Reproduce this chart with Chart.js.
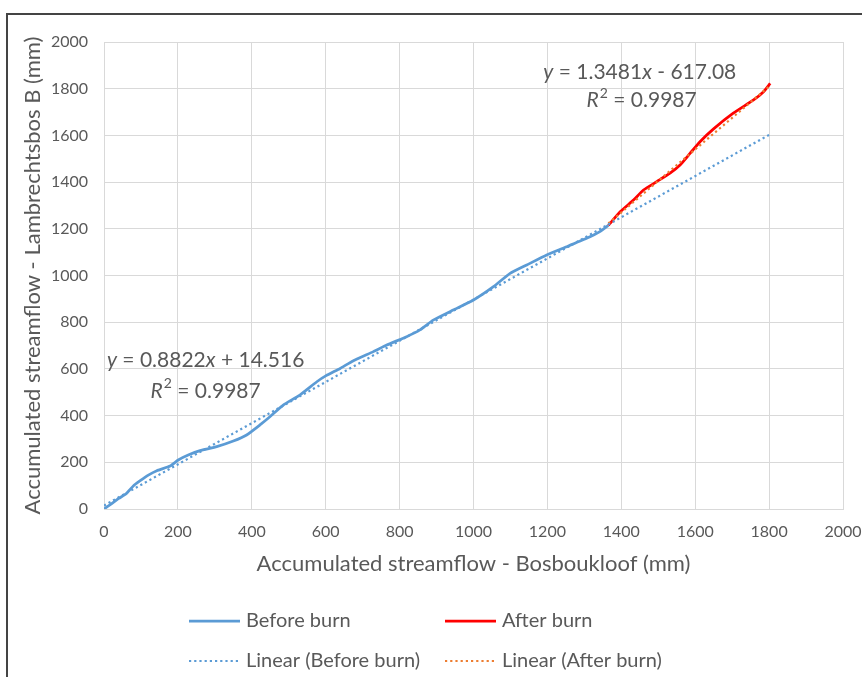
<!DOCTYPE html>
<html>
<head>
<meta charset="utf-8">
<script src="https://cdn.jsdelivr.net/npm/chart.js@4/dist/chart.umd.min.js"></script>
<style>
  body { margin: 0; background: #fff; }
  #frame { position: absolute; left: 6px; top: 13px; width: 900px; height: 700px; border: 2px solid #444; }
  #wrap { position: absolute; left: 0; top: 0; width: 862px; height: 677px; }
</style>
</head>
<body>
<div id="frame"></div>
<div id="wrap"><canvas id="myChart" width="862" height="677"></canvas></div>
<script>
// accumulated streamflow (mm), Bosboukloof on x, Lambrechtsbos B on y
let beforeX = [0, 20, 40, 61, 80, 97, 120, 143, 179, 201, 228, 260, 305, 350, 386, 422, 449, 485, 530, 576, 600, 639, 675, 729, 765, 819, 855, 891, 945, 1000, 1054, 1099, 1144, 1198, 1252, 1306, 1342, 1365];
let beforeY = [0, 22, 45, 67, 100, 120, 145, 164, 184, 210, 231, 250, 267, 291, 317, 360, 395, 445, 488, 545, 570, 602, 635, 674, 702, 738, 767, 809, 852, 895, 952, 1009, 1045, 1088, 1123, 1159, 1188, 1215];
let afterX = [1365, 1397, 1433, 1460, 1496, 1532, 1559, 1586, 1613, 1649, 1703, 1758, 1785, 1803];
let afterY = [1215, 1273, 1323, 1366, 1402, 1438, 1473, 1523, 1573, 1627, 1695, 1752, 1787, 1823];

// trendline end points
let trendBeforeX = [0, 1803];
let trendBeforeY = [15, 1605];
let trendAfterX = [1365, 1803];
let trendAfterY = [1223, 1814];

let eqBefore = ['y', ' = 0.8822', 'x', ' + 14.516'];
let eqAfter = ['y', ' = 1.3481', 'x', ' - 617.08'];
let r2Text = ' = 0.9987';

let tickValues = [0, 200, 400, 600, 800, 1000, 1200, 1400, 1600, 1800, 2000];

const FONT = 'Lato, "Open Sans", sans-serif';
const TEXT = '#595959';
const BLUE = '#5B9BD5';
const RED = '#FF0000';
const ORANGE = '#ED7D31';

function toPoints(xs, ys) {
    return xs.map((x, i) => ({x: x, y: ys[i]}));
}

// draws "y = ...x ..." with italic letters
function drawEquation(ctx, parts, cx, cy, size) {
    let widths = parts.map((p, i) => {
        ctx.font = (i % 2 === 0 ? 'italic ' : '') + size + 'px ' + FONT;
        return ctx.measureText(p).width;
    });
    let total = widths.reduce((a, b) => a + b, 0);
    let x = cx - total / 2;
    parts.forEach((p, i) => {
        ctx.font = (i % 2 === 0 ? 'italic ' : '') + size + 'px ' + FONT;
        ctx.fillText(p, x, cy);
        x += widths[i];
    });
}

function drawR2(ctx, cx, cy, size) {
    ctx.font = 'italic ' + size + 'px ' + FONT;
    let wR = ctx.measureText('R').width + 1;
    ctx.font = Math.round(size * 0.65) + 'px ' + FONT;
    let w2 = ctx.measureText('2').width;
    ctx.font = size + 'px ' + FONT;
    let wT = ctx.measureText(r2Text).width;
    let x = cx - (wR + w2 + wT) / 2;
    ctx.font = 'italic ' + size + 'px ' + FONT;
    ctx.fillText('R', x, cy);
    ctx.font = Math.round(size * 0.65) + 'px ' + FONT;
    ctx.fillText('2', x + wR, cy - size * 0.35);
    ctx.font = size + 'px ' + FONT;
    ctx.fillText(r2Text, x + wR + w2, cy);
}

let annotations = {
    id: 'annotations',
    afterDatasetsDraw(chart) {
        let ctx = chart.ctx;
        let xs = chart.scales.x, ys = chart.scales.y;
        ctx.save();
        ctx.fillStyle = TEXT;
        ctx.textBaseline = 'middle';
        ctx.textAlign = 'left';
        // labels anchored in data space
        drawEquation(ctx, eqBefore, xs.getPixelForValue(275), ys.getPixelForValue(635), 21);
        drawR2(ctx, xs.getPixelForValue(275), ys.getPixelForValue(505), 21);
        drawEquation(ctx, eqAfter, xs.getPixelForValue(1450), ys.getPixelForValue(1870), 21);
        drawR2(ctx, xs.getPixelForValue(1455), ys.getPixelForValue(1750), 21);
        ctx.restore();
    }
};

let legendBox = {
    id: 'legendBox',
    afterDraw(chart) {
        let ctx = chart.ctx;
        let items = [
            {ds: 2, x: 189, y: 621},
            {ds: 3, x: 445, y: 621},
            {ds: 0, x: 189, y: 661},
            {ds: 1, x: 445, y: 661}
        ];
        ctx.save();
        items.forEach(it => {
            let d = chart.data.datasets[it.ds];
            ctx.beginPath();
            ctx.strokeStyle = d.borderColor;
            ctx.lineWidth = d.borderWidth;
            ctx.setLineDash(d.borderDash || []);
            ctx.moveTo(it.x, it.y);
            ctx.lineTo(it.x + 51, it.y);
            ctx.stroke();
            ctx.setLineDash([]);
            ctx.fillStyle = TEXT;
            ctx.font = '20px ' + FONT;
            ctx.textBaseline = 'middle';
            ctx.fillText(d.label, it.x + 57, it.y);
        });
        ctx.restore();
    }
};

new Chart('myChart', {
    type: 'scatter',
    data: {
        datasets: [{
            label: 'Linear (Before burn)',
            data: toPoints(trendBeforeX, trendBeforeY),
            showLine: true,
            borderColor: BLUE,
            borderWidth: 2.2,
            borderDash: [2.2, 3],
            pointRadius: 0
        }, {
            label: 'Linear (After burn)',
            data: toPoints(trendAfterX, trendAfterY),
            showLine: true,
            borderColor: ORANGE,
            borderWidth: 2.2,
            borderDash: [2.2, 3],
            pointRadius: 0
        }, {
            label: 'Before burn',
            data: toPoints(beforeX, beforeY),
            showLine: true,
            borderColor: BLUE,
            borderWidth: 2.75,
            tension: 0.15,
            pointRadius: 0
        }, {
            label: 'After burn',
            data: toPoints(afterX, afterY),
            showLine: true,
            borderColor: RED,
            borderWidth: 2.75,
            tension: 0.15,
            pointRadius: 0
        }]
    },
    options: {
        responsive: false,
        animation: false,
        layout: {padding: {left: 16, right: 19, top: 42, bottom: 96}},
        plugins: {
            legend: {display: false},
            tooltip: {enabled: false}
        },
        scales: {
            x: {
                type: 'linear',
                min: 0,
                max: 2000,
                afterBuildTicks: s => { s.ticks = tickValues.map(v => ({value: v})); },
                afterFit: s => { s.height = 72; s.paddingLeft = 0; s.paddingRight = 0; },
                grid: {color: '#D9D9D9', drawTicks: false},
                border: {color: '#D9D9D9'},
                ticks: {color: TEXT, font: {family: FONT, size: 16}, padding: 13, maxRotation: 0, callback: v => String(v)},
                title: {display: true, text: 'Accumulated streamflow - Bosboukloof (mm)', color: TEXT, font: {family: FONT, size: 22}}
            },
            y: {
                type: 'linear',
                min: 0,
                max: 2000,
                afterBuildTicks: s => { s.ticks = tickValues.map(v => ({value: v})); },
                afterFit: s => { s.width = 88; s.paddingTop = 0; s.paddingBottom = 0; },
                grid: {color: '#D9D9D9', drawTicks: false},
                border: {color: '#D9D9D9'},
                ticks: {color: TEXT, font: {family: FONT, size: 16}, padding: 16, callback: v => String(v)},
                title: {display: true, text: 'Accumulated streamflow - Lambrechtsbos B (mm)', color: TEXT, font: {family: FONT, size: 22}}
            }
        }
    },
    plugins: [annotations, legendBox]
});
</script>
</body>
</html>
